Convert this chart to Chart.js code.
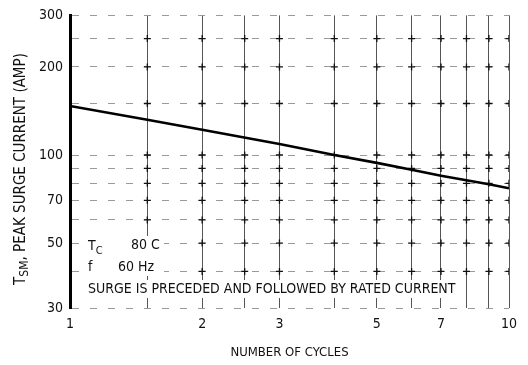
<!DOCTYPE html>
<html>
<head>
<meta charset="utf-8">
<script src="https://cdn.jsdelivr.net/npm/chart.js@4"></script>
<style>
  html, body { margin: 0; padding: 0; background: #fff; }
  #wrap { width: 528px; height: 365px; position: relative; }
</style>
</head>
<body>
<div id="wrap"><canvas id="myChart"></canvas></div>
<script>
// surge current curve
const cycles = [1, 1.5, 2, 3, 4, 5, 6, 7, 8, 9, 10];
const surgeAmps = [147, 132, 122, 109, 100, 94, 89, 85, 82, 79.5, 77];

// grid positions and labelled ticks
const gridX = [1, 1.5, 2, 2.5, 3, 4, 5, 6, 7, 8, 9, 10];
const gridY = [30, 40, 50, 60, 70, 80, 90, 100, 150, 200, 250, 300];
const labelX = [1, 2, 3, 5, 7, 10];
const labelY = [30, 50, 70, 100, 200, 300];
const crossX = [1.5, 2, 2.5, 3, 4, 5, 6, 7, 8, 9, 10];
const crossY = [40, 50, 60, 70, 80, 90, 100, 150, 200, 250];

const FONT = "'Liberation Sans Narrow', 'DejaVu Sans Condensed', 'Liberation Sans', sans-serif";

let crosses = [];
crossX.forEach(x => { crossY.forEach(y => { crosses.push({x: x, y: y}) }) });

// y title with subscript and the condition notes
const notes = {
  id: 'notes',
  afterDraw(chart) {
    const ctx = chart.ctx;
    ctx.save();
    ctx.textBaseline = 'middle';

    // rotated y axis title
    ctx.save();
    ctx.fillStyle = '#111';
    ctx.translate(21, 169);
    ctx.rotate(-Math.PI / 2);
    let big = '15px ' + FONT, small = '12px ' + FONT;
    ctx.font = big;
    const rest = ', PEAK SURGE CURRENT (AMP)';
    const wT = ctx.measureText('T').width;
    const wRest = ctx.measureText(rest).width;
    ctx.font = small;
    const wSub = ctx.measureText('SM').width;
    let x = -(wT + wSub + wRest) / 2;
    ctx.font = big;
    ctx.fillText('T', x, 0);
    x += wT;
    ctx.font = small;
    ctx.fillText('SM', x, 4);
    x += wSub;
    ctx.font = big;
    ctx.fillText(rest, x, 0);
    ctx.restore();

    // notes inside the plot, on a clear patch like the original
    big = '14px ' + FONT;
    small = '11px ' + FONT;
    const surge = 'SURGE IS PRECEDED AND FOLLOWED BY RATED CURRENT';
    ctx.font = big;
    const wSurge = ctx.measureText(surge).width;
    ctx.fillStyle = '#fff';
    ctx.fillRect(84, 236, 80, 40);
    ctx.fillRect(84, 280, wSurge + 8, 18);

    ctx.fillStyle = '#111';
    ctx.fillText('T', 88, 246);
    const w = ctx.measureText('T').width;
    ctx.font = small;
    ctx.fillText('C', 88 + w, 251);
    ctx.font = big;
    ctx.fillText('80 C', 131, 245);
    ctx.fillText('f', 88, 267);
    ctx.fillText('60 Hz', 118, 267);
    ctx.fillText(surge, 88, 289);
    ctx.restore();
  }
};

const config = {
  type: 'line',
  data: {
    datasets: [{
      data: cycles.map((c, i) => ({x: c, y: surgeAmps[i]})),
      borderColor: '#000',
      borderWidth: 2.6,
      pointRadius: 0,
      tension: 0,
    }, {
      type: 'scatter',
      data: crosses,
      pointStyle: 'cross',
      pointRadius: 3.5,
      borderColor: '#111',
      borderWidth: 1.3,
      backgroundColor: '#111',
    }]
  },
  options: {
    responsive: true,
    maintainAspectRatio: false,
    animation: false,
    layout: {padding: {top: 9, right: 19, left: 0, bottom: 0}},
    scales: {
      x: {
        type: 'logarithmic',
        min: 1,
        max: 10,
        afterBuildTicks: s => { s.ticks = gridX.map(v => ({value: v})) },
        afterFit: s => { s.height = 57 },
        ticks: {
          autoSkip: false,
          maxRotation: 0,
          padding: 8,
          color: '#111',
          font: {family: FONT, size: 14},
          callback: v => labelX.includes(v) ? String(v) : '',
        },
        grid: {color: '#555', lineWidth: 1, drawTicks: false},
        border: {display: false},
        title: {
          display: true,
          text: 'NUMBER OF CYCLES',
          color: '#111',
          font: {family: FONT, size: 13},
          padding: {top: 0, bottom: 5},
        },
      },
      y: {
        type: 'logarithmic',
        min: 30,
        max: 300,
        afterBuildTicks: s => { s.ticks = gridY.map(v => ({value: v})) },
        afterFit: s => { s.width = 70 },
        ticks: {
          autoSkip: false,
          padding: 7,
          color: '#111',
          font: {family: FONT, size: 14},
          callback: v => labelY.includes(v) ? String(v) : '',
        },
        grid: {color: '#9a9a9a', lineWidth: 1, drawTicks: false},
        border: {display: true, color: '#000', width: 3, dash: [7, 11]},
      },
    },
    plugins: {
      legend: {display: false},
      tooltip: {enabled: false},
    },
  },
  plugins: [notes]
};

const myChart = new Chart(document.getElementById('myChart'), config);
</script>
</body>
</html>
